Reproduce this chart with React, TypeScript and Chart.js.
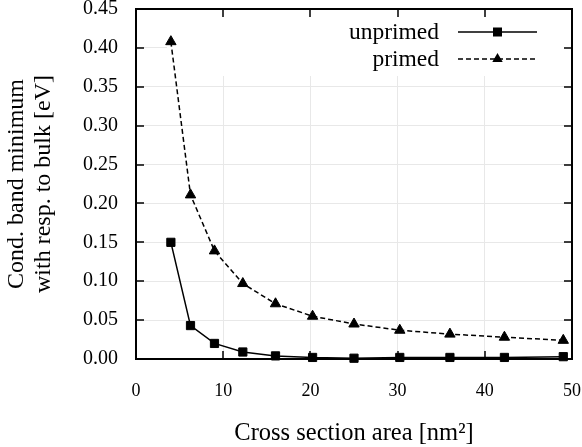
import React, { useEffect, useRef } from "react";
import { Chart, registerables } from "chart.js";

Chart.register(...registerables);

// ---- data ----
const areas = [4, 6.25, 9, 12.25, 16, 20.25, 25, 30.25, 36, 42.25, 49];
const unprimed = [0.15, 0.043, 0.02, 0.009, 0.004, 0.002, 0.001, 0.002, 0.002, 0.002, 0.003];
const primed = [0.408, 0.211, 0.139, 0.097, 0.071, 0.055, 0.045, 0.037, 0.032, 0.028, 0.024];
const seriesNames = ["unprimed", "primed"];
const xTicks = [0, 10, 20, 30, 40, 50];
const yTicks = [0, 0.05, 0.1, 0.15, 0.2, 0.25, 0.3, 0.35, 0.4, 0.45];
const xTitle = "Cross section area [nm²]";
const yTitle = ["Cond. band minimum", "with resp. to bulk [eV]"];

const FONT = "'Liberation Serif', 'Times New Roman', serif";

const keyBoxPlugin = {
  id: "keyBox",
  beforeDatasetsDraw(chart: any) {
    const { ctx, chartArea } = chart;
    const { top, right, left } = chartArea;
    ctx.save();
    ctx.fillStyle = "#ffffff";
    ctx.fillRect(left + 31, top, right - (left + 31), 67);
    ctx.restore();
  },
};

const framePlugin = {
  id: "frameAndKey",
  afterDraw(chart: any) {
    const { ctx, chartArea, scales } = chart;
    const top = chartArea.top;
    const bottom = chartArea.bottom;
    const left = chartArea.left;
    const right = chartArea.right;
    const tl = 8;
    ctx.save();
    ctx.setLineDash([]);
    ctx.strokeStyle = "#000000";
    ctx.lineWidth = 1.5;
    for (const v of xTicks) {
      const px = Math.round(scales.x.getPixelForValue(v));
      ctx.beginPath();
      ctx.moveTo(px, bottom);
      ctx.lineTo(px, bottom - tl);
      ctx.moveTo(px, top);
      ctx.lineTo(px, top + tl);
      ctx.stroke();
    }
    for (const v of yTicks) {
      const py = Math.round(scales.y.getPixelForValue(v));
      ctx.beginPath();
      ctx.moveTo(left, py);
      ctx.lineTo(left + tl, py);
      ctx.moveTo(right, py);
      ctx.lineTo(right - tl, py);
      ctx.stroke();
    }
    ctx.lineWidth = 2;
    ctx.strokeRect(left, top, right - left, bottom - top);

    // key
    ctx.fillStyle = "#000000";
    ctx.font = `23.5px ${FONT}`;
    ctx.textAlign = "right";
    ctx.textBaseline = "alphabetic";
    const tx = right - 133;
    const l0 = right - 114;
    const l1 = right - 35;
    const mx = (l0 + l1) / 2;
    ctx.fillText(seriesNames[0], tx, top + 30);
    ctx.lineWidth = 1.5;
    ctx.beginPath();
    ctx.moveTo(l0, top + 23);
    ctx.lineTo(l1, top + 23);
    ctx.stroke();
    ctx.fillRect(mx - 4.5, top + 23 - 4.5, 9, 9);
    ctx.fillText(seriesNames[1], tx, top + 57);
    ctx.setLineDash([5, 3]);
    ctx.beginPath();
    ctx.moveTo(l0, top + 50);
    ctx.lineTo(l1, top + 50);
    ctx.stroke();
    ctx.setLineDash([]);
    const r = 6;
    const cy = top + 50;
    ctx.beginPath();
    ctx.moveTo(mx, cy - r);
    ctx.lineTo(mx + r * 0.866, cy + r / 2);
    ctx.lineTo(mx - r * 0.866, cy + r / 2);
    ctx.closePath();
    ctx.fill();
    ctx.restore();
  },
};

export default function App() {
  const ref = useRef<HTMLCanvasElement | null>(null);

  useEffect(() => {
    document.body.style.margin = "0";
    const canvas = ref.current;
    if (!canvas) return;
    const chart = new Chart(canvas, {
      type: "scatter",
      data: {
        datasets: [
          {
            label: seriesNames[0],
            data: areas.map((x, i) => ({ x, y: unprimed[i] })),
            showLine: true,
            borderColor: "#000",
            backgroundColor: "#000",
            borderWidth: 1.5,
            pointStyle: "rect",
            pointRadius: 5.8,
            pointBorderWidth: 1,
            pointBackgroundColor: "#000",
            pointBorderColor: "#000",
            clip: false,
          },
          {
            label: seriesNames[1],
            data: areas.map((x, i) => ({ x, y: primed[i] })),
            showLine: true,
            borderColor: "#000",
            backgroundColor: "#000",
            borderWidth: 1.5,
            borderDash: [5, 3],
            pointStyle: "triangle",
            pointRadius: 6,
            pointBorderWidth: 1,
            pointBackgroundColor: "#000",
            pointBorderColor: "#000",
            clip: false,
          },
        ],
      },
      options: {
        animation: false,
        responsive: true,
        maintainAspectRatio: false,
        layout: { padding: { top: 9, right: 10, left: 0, bottom: 0 } },
        plugins: {
          legend: { display: false },
          tooltip: { enabled: false },
        },
        scales: {
          x: {
            type: "linear",
            min: 0,
            max: 50,
            ticks: {
              stepSize: 10,
              color: "#000",
              font: { family: FONT, size: 18 },
              padding: 21,
              maxRotation: 0,
            },
            grid: { color: "#e8e8e8", lineWidth: 1, drawTicks: false },
            border: { display: false },
            title: {
              display: true,
              text: xTitle,
              color: "#000",
              font: { family: FONT, size: 24.5, lineHeight: 1.125 },
              padding: { top: 0, bottom: 0 },
            },
            afterFit: (s: any) => {
              s.height = 88;
              s.paddingLeft = 0;
              s.paddingRight = 0;
            },
          },
          y: {
            type: "linear",
            min: 0,
            max: 0.45,
            ticks: {
              stepSize: 0.05,
              color: "#000",
              font: { family: FONT, size: 20 },
              padding: 18,
              callback: (v: any) => Number(v).toFixed(2),
            },
            grid: { color: "#e8e8e8", lineWidth: 1, drawTicks: false },
            border: { display: false },
            title: {
              display: true,
              text: yTitle,
              color: "#000",
              font: { family: FONT, size: 24, lineHeight: 1.125 },
              padding: { top: 3.5, bottom: 0 },
            },
            afterFit: (s: any) => {
              s.width = 136;
              s.paddingTop = 0;
              s.paddingBottom = 0;
            },
          },
        },
      },
      plugins: [keyBoxPlugin, framePlugin],
    });
    return () => chart.destroy();
  }, []);

  return (
    <div style={{ width: 582, height: 447, position: "relative" }}>
      <canvas ref={ref} />
    </div>
  );
}
